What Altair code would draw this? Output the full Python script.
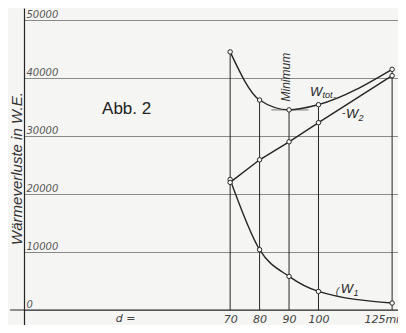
import altair as alt
import pandas as pd

# --- data ---
d_mm = [70, 80, 90, 100, 125]
w1 = [22500, 10400, 5800, 3200, 1200]
w2 = [22000, 25900, 29000, 32300, 40400]
wtot = [44500, 36200, 34500, 35400, 41500]
y_ticks = [0, 10000, 20000, 30000, 40000, 50000]
x_ticks = [70, 80, 90, 100, 125]

df = pd.DataFrame({"d": d_mm, "W1": w1, "W2": w2, "Wtot": wtot,
                   "base": [0] * len(d_mm)})

XD = [0, 127]
YD = [-2586, 52069]
INK = "#262626"
FONT = "Liberation Sans"

x_enc = alt.X("d:Q", scale=alt.Scale(domain=XD, nice=False, zero=False),
              axis=alt.Axis(values=x_ticks, orient="bottom", domain=False, ticks=False,
                            tickSize=0, grid=False, labelPadding=-6,
                            labelBaseline="middle",
                            labelOffset={"condition": {"test": "datum.value == 125",
                                                       "value": -7}, "value": 0},
                            labelExpr="datum.value == 125 ? '125mm' : datum.label",
                            labelFont="DejaVu Sans", labelFontStyle="italic",
                            labelFontSize=11, labelColor="#444", labelFlush=False,
                            labelOverlap=False, labelBound=False, title=None))

yscale = alt.Scale(domain=YD, nice=False, zero=False)
yaxis = alt.Axis(values=y_ticks, orient="left", grid=True, gridColor="#8a8a8a",
                 gridWidth=1, domain=True, domainColor=INK, domainWidth=1.2,
                 ticks=False, tickSize=0, labelAlign="left", labelPadding=-2,
                 labelBaseline="alphabetic", labelOffset=-3,
                 labelFont="DejaVu Sans", labelFontStyle="italic", labelFontSize=10,
                 labelColor="#555", labelFlush=False, labelOverlap=False,
                 labelBound=False, format="d",
                 title="Wärmeverluste in W.E.", titleFont=FONT,
                 titleFontStyle="italic", titleFontWeight="normal", titleFontSize=15,
                 titleColor="#333", titleX=-8, titleY=160, titleAngle=270,
                 titleAlign="center", titleBaseline="middle")

base = alt.Chart(df)

grid = base.mark_point(opacity=0).encode(
    x=x_enc, y=alt.Y("W1:Q", scale=yscale, axis=yaxis))

seg = pd.DataFrame({"x0": [-4.7, 84], "x1": [127, 96.6], "y": [0, 34500],
                    "kind": ["axis", "min"]})
zero_line = alt.Chart(seg).transform_filter("datum.kind == 'axis'").mark_rule(
    color=INK, strokeWidth=1.2, clip=False).encode(x="x0:Q", x2="x1:Q", y="y:Q")
min_tick = alt.Chart(seg).transform_filter("datum.kind == 'min'").mark_rule(
    color="#555", strokeWidth=0.8).encode(x="x0:Q", x2="x1:Q", y="y:Q")

verticals = base.mark_rule(color=INK, strokeWidth=1).encode(
    x="d:Q", y="base:Q", y2="Wtot:Q")

line_w1 = base.mark_line(color=INK, strokeWidth=1.4, interpolate="monotone").encode(
    x="d:Q", y="W1:Q")
line_w2 = base.mark_line(color=INK, strokeWidth=1.4).encode(x="d:Q", y="W2:Q")
line_wt = base.mark_line(color=INK, strokeWidth=1.4, interpolate="monotone").encode(
    x="d:Q", y="Wtot:Q")

pt_kw = dict(shape="circle", filled=True, fill="#f7f7f5", stroke=INK,
             strokeWidth=1, size=20, opacity=1)
pts = [base.mark_point(**pt_kw).encode(x="d:Q", y=f"{c}:Q")
       for c in ["W1", "W2", "Wtot"]]

# annotations (curve labels W_tot, W_2, W_1)
big = pd.DataFrame({"t": ["W", "W", "W"], "x": [97.1, 109.3, 107.6],
                    "y": [36960, 33160, 2890]})
subs = pd.DataFrame({"t": ["tot", "2", "1"], "x": [101.4, 113.6, 111.9],
                     "y": [36480, 32650, 2380]})
hooks = pd.DataFrame({"t": ["~", "-", "("], "x": [104.8, 108.0, 105.9],
                      "y": [35900, 33500, 2550]})

lab_big = alt.Chart(big).mark_text(font=FONT, fontStyle="italic", fontSize=13,
                                   color=INK, align="left", baseline="alphabetic"
                                   ).encode(x="x:Q", y="y:Q", text="t:N")
lab_sub = alt.Chart(subs).mark_text(font=FONT, fontStyle="italic", fontSize=9,
                                    color=INK, align="left", baseline="alphabetic"
                                    ).encode(x="x:Q", y="y:Q", text="t:N")
lab_hook = alt.Chart(hooks).mark_text(font=FONT, fontStyle="italic", fontSize=10,
                                      color="#444", align="left", baseline="alphabetic"
                                      ).encode(x="x:Q", y="y:Q", text="t:N")

minimum = alt.Chart(pd.DataFrame({"t": ["Minimum"], "x": [89], "y": [40140]})).mark_text(
    font=FONT, fontStyle="italic", fontSize=12, color="#333", angle=270,
    align="center", baseline="middle").encode(x="x:Q", y="y:Q", text="t:N")

abb = alt.Chart(pd.DataFrame({"t": ["Abb. 2"], "x": [26.5], "y": [33840]})).mark_text(
    font=FONT, fontSize=17, color="#222", align="left", baseline="alphabetic"
).encode(x="x:Q", y="y:Q", text="t:N")

dlab = alt.Chart(pd.DataFrame({"t": ["d ="], "x": [34.5], "y": [-1552]})).mark_text(
    font="DejaVu Sans", fontStyle="italic", fontSize=11, color="#444",
    align="center", baseline="middle").encode(x="x:Q", y="y:Q", text="t:N")

chart = alt.layer(
    grid, zero_line, verticals, min_tick, line_w1, line_w2, line_wt, *pts,
    lab_big, lab_sub, lab_hook, minimum, abb, dlab
).properties(
    width=374, height=317, background="#f5f5f3",
    autosize=alt.AutoSizeParams(type="none"),
    padding={"left": 16, "top": 0, "right": 0, "bottom": 0},
).configure_view(stroke=None)

chart.save("out.html", embed_options={"renderer": "svg", "actions": False})
